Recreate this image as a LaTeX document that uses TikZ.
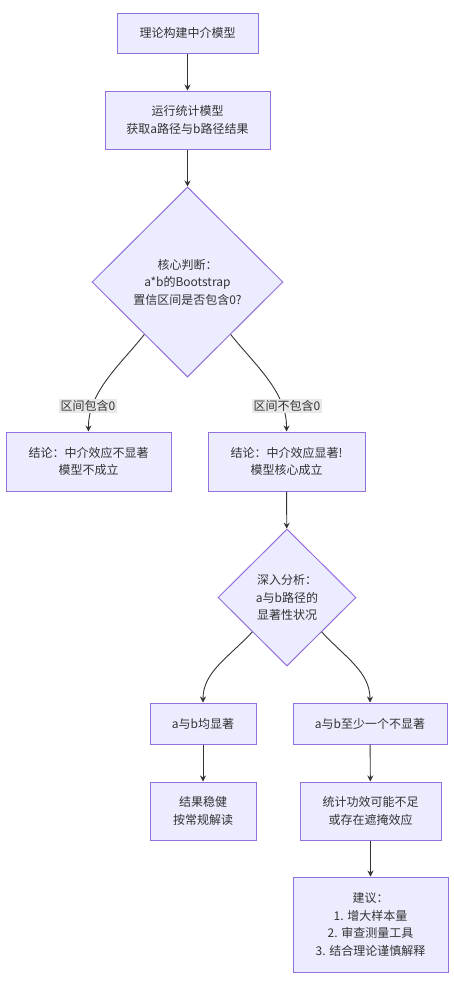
\documentclass[tikz,border=0pt]{standalone}
\usepackage{fontspec}
\setmainfont{Noto Sans CJK SC}
\usetikzlibrary{shapes.geometric,arrows.meta,calc}
\definecolor{nodefill}{HTML}{ECECFF}
\definecolor{nodeline}{HTML}{9370DB}
\definecolor{edgecol}{HTML}{333333}
\definecolor{lblbg}{HTML}{E8E8E8}
\tikzset{
  base/.style={fill=nodefill, draw=nodeline, line width=1pt, text=edgecol, align=center,
    font=\fontsize{12pt}{17.5pt}\selectfont, inner sep=0pt},
  box/.style={base, rectangle},
  dia/.style={base, diamond},
  lbl/.style={fill=lblbg, text=edgecol, font=\fontsize{12pt}{14pt}\selectfont, inner sep=1.5pt},
  conn/.style={draw=edgecol, line width=0.9pt, -{Stealth[length=6pt,width=6pt]}},
}
\begin{document}
\begin{tikzpicture}[x=1pt,y=-1pt]
\useasboundingbox[fill=white] (0,0) rectangle (454,985);
\node[box, minimum width=141pt, minimum height=40pt] (b1) at (187.5,33) {理论构建中介模型};
\node[box, minimum width=165pt, minimum height=58pt] (b2) at (187.5,120) {运行统计模型\\获取a路径与b路径结果};
\node[dia, minimum width=191pt, minimum height=190pt] (d1) at (187.5,282) {核心判断：\\a*b的Bootstrap\\置信区间是否包含0?};
\node[box, minimum width=165pt, minimum height=59pt] (b3) at (88.5,461.5) {结论：中介效应不显著\\模型不成立};
\node[box, minimum width=157pt, minimum height=59pt] (b4) at (286.5,461.5) {结论：中介效应显著!\\模型核心成立};
\node[dia, minimum width=138pt, minimum height=137pt] (d2) at (287,597.5) {深入分析：\\a与b路径的\\显著性状况};
\node[box, minimum width=106pt, minimum height=41pt] (b5) at (203,723.5) {a与b均显著};
\node[box, minimum width=154pt, minimum height=41pt] (b6) at (370,723.5) {a与b至少一个不显著};
\node[box, minimum width=106pt, minimum height=58pt] (b7) at (203,811) {结果稳健\\按常规解读};
\node[box, minimum width=141pt, minimum height=58pt] (b8) at (370.5,811) {统计功效可能不足\\或存在遮掩效应};
\node[box, minimum width=155pt, minimum height=95pt] (b9) at (370.5,924.5) {建议：\\1. 增大样本量\\2. 审查测量工具\\3. 结合理论谨慎解释};

\draw[conn] (b1) -- (b2);
\draw[conn] (b2) -- (d1);
\coordinate (d1l) at ($(d1.west)!0.55!(d1.south)$);
\coordinate (d1r) at ($(d1.east)!0.55!(d1.south)$);
\draw[conn] (d1l) .. controls (120,365) and (88,392) .. (b3.north);
\draw[conn] (d1r) .. controls (255,365) and (287,392) .. (b4.north);
\node[lbl] (l1) at (88,406) {区间包含0};
\node[lbl] (l2) at (287,406) {区间不包含0};
\draw[conn] (b4) -- (d2);
\coordinate (d2l) at ($(d2.west)!0.5!(d2.south)$);
\coordinate (d2r) at ($(d2.east)!0.5!(d2.south)$);
\draw[conn] (d2l) .. controls (228,658) and (203,672) .. (b5.north);
\draw[conn] (d2r) .. controls (346,658) and (370,672) .. (b6.north);
\draw[conn] (b5) -- (b7);
\draw[conn] (b6) -- (b8);
\draw[conn] (b8) -- (b9);
\end{tikzpicture}
\end{document}
